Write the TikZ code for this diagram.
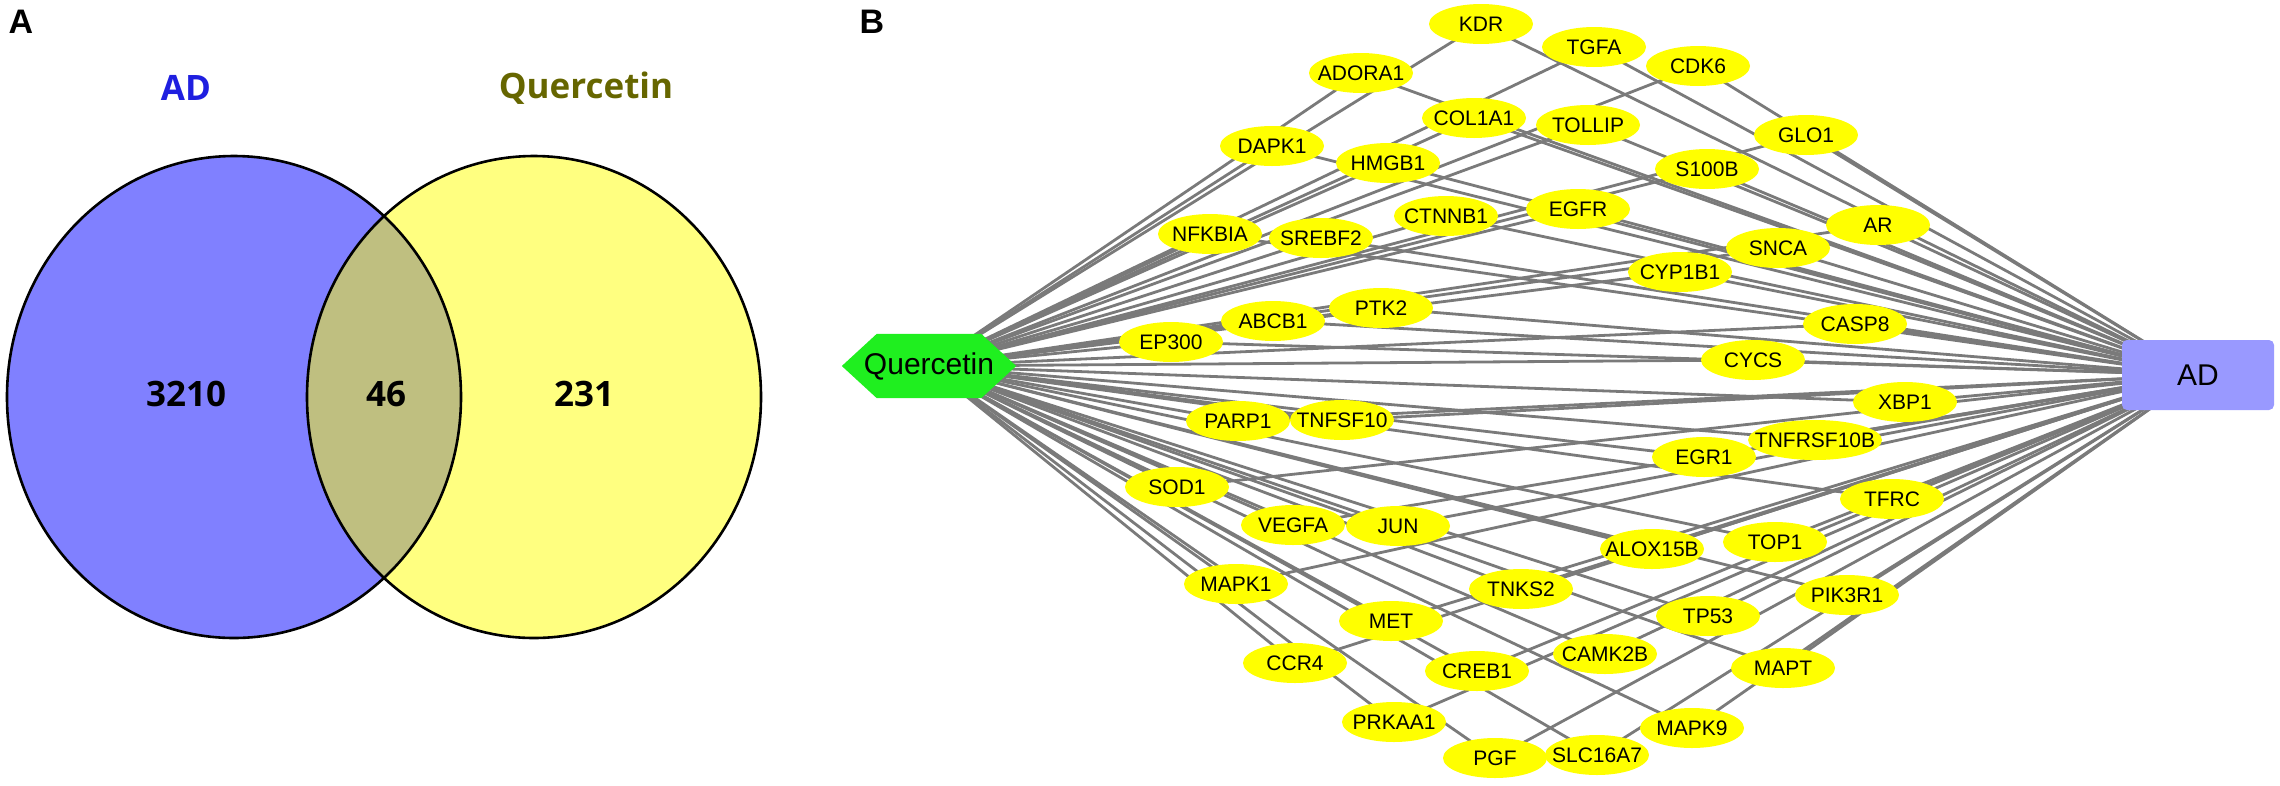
\documentclass[tikz,border=0pt]{standalone}
\usepackage{fontspec}
\setmainfont{Liberation Sans}
\newfontfamily\vennfont{Open Sans}
\usetikzlibrary{shapes.geometric}
\pgfdeclarelayer{bg}\pgfdeclarelayer{mid}\pgfsetlayers{bg,mid,main}
\definecolor{adblue}{HTML}{8080FF}
\definecolor{qyellow}{HTML}{FFFF80}
\definecolor{overlap}{HTML}{BFBF80}
\definecolor{adtext}{HTML}{1F1FE0}
\definecolor{qtext}{HTML}{666600}
\definecolor{edgegray}{HTML}{7A7A7A}
\definecolor{geneyellow}{HTML}{FFFF00}
\definecolor{qgreen}{HTML}{1FEF1F}
\definecolor{adbox}{HTML}{9999FF}
\begin{document}
\begin{tikzpicture}[x=1pt,y=-1pt,
  gene/.style={ellipse, fill=geneyellow, minimum width=104pt, minimum height=40pt, inner sep=0pt, font=\fontsize{21}{24}\selectfont},
  edge/.style={draw=edgegray, line width=2.8pt},
  vennlbl/.style={font=\vennfont\bfseries\fontsize{35}{40}\selectfont},
  panel/.style={font=\bfseries\fontsize{34}{40}\selectfont}]
\useasboundingbox (0,0) rectangle (2280,785);
% ---------- Panel A: Venn ----------
\node[panel] (pA) at (21,22) {A};
\coordinate (cL) at (234,397);
\coordinate (cR) at (534,397);
\fill[adblue] (cL) ellipse [x radius=227pt, y radius=241pt];
\fill[qyellow] (cR) ellipse [x radius=227pt, y radius=241pt];
\begin{scope}
  \clip (cL) ellipse [x radius=227pt, y radius=241pt];
  \fill[overlap] (cR) ellipse [x radius=227pt, y radius=241pt];
\end{scope}
\draw[line width=2.6pt] (cL) ellipse [x radius=227pt, y radius=241pt];
\draw[line width=2.6pt] (cR) ellipse [x radius=227pt, y radius=241pt];
\node[vennlbl, text=adtext] (lAD) at (186,88) {AD};
\node[vennlbl, text=qtext] (lQ) at (586,88) {Quercetin};
\node[vennlbl] (n1) at (186,394) {3210};
\node[vennlbl] (n2) at (386,394) {46};
\node[vennlbl] (n3) at (584,394) {231};
% ---------- Panel B: network ----------
\node[panel] (pB) at (872,22) {B};
\node[font=\fontsize{30}{34}\selectfont, minimum width=174pt, minimum height=64pt, inner sep=0pt] (Q) at (929,366) {Quercetin};
\begin{pgfonlayer}{mid}
\fill[qgreen] (Q.west) -- ([xshift=35pt]Q.north west) -- ([xshift=-35pt]Q.north east) -- (Q.east) -- ([xshift=-35pt]Q.south east) -- ([xshift=35pt]Q.south west) -- cycle;
\end{pgfonlayer}
\node[fill=adbox, rounded corners=5pt, minimum width=152pt, minimum height=70pt, inner sep=0pt, font=\fontsize{30}{34}\selectfont] (AD) at (2198,375) {AD};
\foreach \n/\x/\y/\w in {
 KDR/1481/24/104, TGFA/1594/47/104, CDK6/1698/66/104, ADORA1/1361/73/104,
 COL1A1/1474/118/104, TOLLIP/1588/125/104, GLO1/1806/135/104, DAPK1/1272/146/104,
 HMGB1/1388/163/104, S100B/1707/169/104, EGFR/1578/209/104, CTNNB1/1446/216/104,
 NFKBIA/1210/234/104, SREBF2/1321/238/104, AR/1878/225/104, SNCA/1778/248/104,
 CYP1B1/1680/272/104, PTK2/1381/308/104, ABCB1/1273/321/104, CASP8/1855/324/104,
 EP300/1171/342/104, CYCS/1753/360/104, XBP1/1905/402/104, PARP1/1238/421/104,
 TNFSF10/1342/420/104, TNFRSF10B/1815/440/134, EGR1/1704/457/104, SOD1/1177/487/104,
 TFRC/1892/499/104, VEGFA/1293/525/104, JUN/1398/526/104, TOP1/1775/542/104,
 ALOX15B/1652/549/104, MAPK1/1236/584/104, TNKS2/1521/589/104, PIK3R1/1847/595/104,
 TP53/1708/616/104, MET/1391/621/104, CAMK2B/1605/654/104, CCR4/1295/663/104,
 MAPT/1783/668/104, CREB1/1477/671/104, PRKAA1/1394/722/104, MAPK9/1692/728/104,
 SLC16A7/1597/755/104, PGF/1495/758/104}
 {\node[gene, minimum width=\w pt] (\n) at (\x,\y) {\makebox[0pt]{\n}};}
\begin{pgfonlayer}{bg}
\foreach \n in {KDR,TGFA,CDK6,ADORA1,COL1A1,TOLLIP,GLO1,DAPK1,HMGB1,S100B,EGFR,CTNNB1,
 NFKBIA,SREBF2,AR,SNCA,CYP1B1,PTK2,ABCB1,CASP8,EP300,CYCS,XBP1,PARP1,TNFSF10,TNFRSF10B,
 EGR1,SOD1,TFRC,VEGFA,JUN,TOP1,ALOX15B,MAPK1,TNKS2,PIK3R1,TP53,MET,CAMK2B,CCR4,MAPT,
 CREB1,PRKAA1,MAPK9,SLC16A7,PGF}
 {\draw[edge] (Q.center) -- (\n.center); \draw[edge] (\n.center) -- (AD.center);}
\end{pgfonlayer}
\end{tikzpicture}
\end{document}
